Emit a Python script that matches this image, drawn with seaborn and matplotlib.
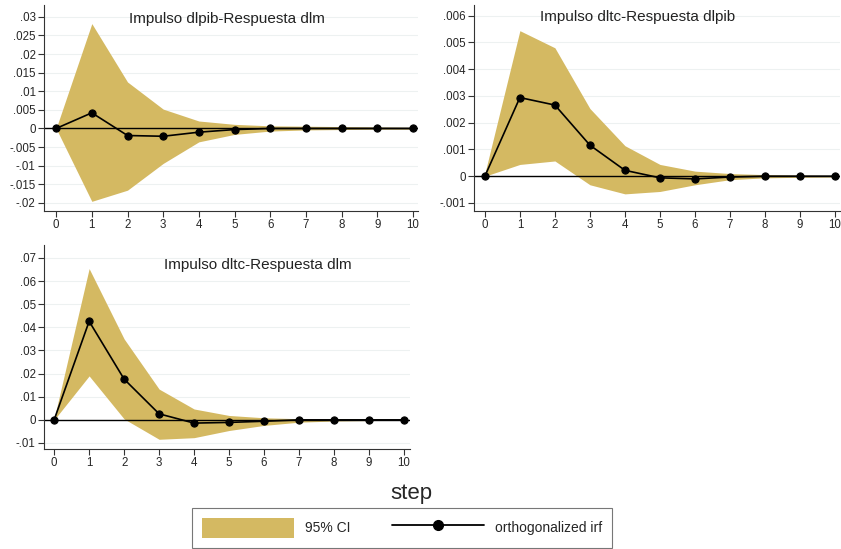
import seaborn as sns
import matplotlib.pyplot as plt
import pandas as pd
import numpy as np
from matplotlib.patches import Patch
from matplotlib.lines import Line2D

steps = list(range(11))

# Impulso dlpib -> Respuesta dlm
irf_pib_dlm = [0, 0.0042, -0.0019, -0.0021, -0.001, -0.0003, 0, 0, 0, 0, 0]
up_pib_dlm = [0, 0.0282, 0.0125, 0.0052, 0.002, 0.0011, 0.0007, 0.0006, 0.0005, 0.0004, 0.0003]
lo_pib_dlm = [0, -0.0196, -0.0166, -0.0094, -0.0036, -0.0016, -0.0007, -0.0004, -0.0003, -0.0002, -0.0002]

# Impulso dltc -> Respuesta dlpib
irf_tc_pib = [0, 0.00294, 0.00266, 0.00116, 0.00022, -0.00006, -0.0001, -0.00003, 0, 0, 0]
up_tc_pib = [0.0001, 0.00544, 0.0048, 0.00253, 0.00114, 0.00044, 0.00019, 0.0001, 0.00006, 0.00004, 0.00003]
lo_tc_pib = [0, 0.00044, 0.00057, -0.00032, -0.00066, -0.00057, -0.00032, -0.00013, -0.00006, -0.00004, -0.00003]

# Impulso dltc -> Respuesta dlm
irf_tc_dlm = [0, 0.0426, 0.0176, 0.0026, -0.0014, -0.0011, -0.0006, 0, 0, 0, 0]
up_tc_dlm = [0.0005, 0.0654, 0.035, 0.0133, 0.0047, 0.0019, 0.0009, 0.0005, 0.0004, 0.0003, 0.0002]
lo_tc_dlm = [0, 0.019, 0.0004, -0.0084, -0.0077, -0.0046, -0.0024, -0.001, -0.0005, -0.0003, -0.0002]

sns.set_style("white")
plt.rcParams['font.family'] = ['Liberation Sans', 'DejaVu Sans']

ci_color = "#D4B962"

def stata_fmt(v):
    v = round(v, 6)
    if v == 0:
        return "0"
    s = f"{v:g}"
    return s.replace("0.", ".", 1)

def panel(ax, irf, lo, up, yticks, ylim, xlim, title, tx, ty):
    df = pd.DataFrame({"step": steps, "irf": irf})
    ax.fill_between(steps, lo, up, color=ci_color, lw=0, zorder=1)
    ax.axhline(0, color="black", lw=1.0, zorder=2)
    sns.lineplot(data=df, x="step", y="irf", ax=ax, color="black", lw=1.2,
                 marker="o", markersize=5.2, markeredgecolor="black", zorder=3)
    ax.set_yticks(yticks)
    ax.set_yticklabels([stata_fmt(v) for v in yticks])
    ax.set_xticks(steps)
    ax.set_ylim(ylim)
    ax.set_xlim(xlim)
    for v in yticks:
        ax.axhline(v, color="#edf1f1", lw=0.8, zorder=0)
    ax.set_xlabel("")
    ax.set_ylabel("")
    sns.despine(ax=ax)
    ax.spines["left"].set_color("#333333")
    ax.spines["bottom"].set_color("#333333")
    ax.tick_params(axis="both", direction="out", length=4, width=0.8,
                   color="#333333", labelsize=8.3, pad=2, left=True, bottom=True)
    ax.text(tx, ty, title, transform=ax.transAxes, ha="center", va="center",
            fontsize=11, color="#222222")

fig = plt.figure(figsize=(8.41, 5.49), dpi=100)

ax1 = fig.add_axes([44/841, 1-211/549, 374/841, 206/549])
panel(ax1, irf_pib_dlm, lo_pib_dlm, up_pib_dlm,
      [-0.02, -0.015, -0.01, -0.005, 0, 0.005, 0.01, 0.015, 0.02, 0.025, 0.03],
      (-0.0222, 0.0332), (-0.34, 10.14), "Impulso dlpib-Respuesta dlm", 0.49, 0.93)

ax2 = fig.add_axes([474/841, 1-211/549, 366/841, 206/549])
panel(ax2, irf_tc_pib, lo_tc_pib, up_tc_pib,
      [-0.001, 0, 0.001, 0.002, 0.003, 0.004, 0.005, 0.006],
      (-0.0013, 0.0064), (-0.31, 10.14), "Impulso dltc-Respuesta dlpib", 0.447, 0.94)

ax3 = fig.add_axes([44/841, 1-449/549, 366/841, 204/549])
panel(ax3, irf_tc_dlm, lo_tc_dlm, up_tc_dlm,
      [-0.01, 0, 0.01, 0.02, 0.03, 0.04, 0.05, 0.06, 0.07],
      (-0.0126, 0.0756), (-0.29, 10.17), "Impulso dltc-Respuesta dlm", 0.585, 0.90)

fig.text(411/841, 1-493/549, "step", ha="center", va="center", fontsize=16)

handles = [Patch(facecolor=ci_color, edgecolor="none"),
           Line2D([0], [0], color="black", lw=1.3, marker="o", markersize=7)]
leg = fig.legend(handles, ["95% CI", "orthogonalized irf"], ncol=2,
                 loc="upper center", bbox_to_anchor=(402/841, 1-508/549),
                 frameon=True, fancybox=False, fontsize=10, handlelength=6.6,
                 handleheight=1.9, columnspacing=3.0, handletextpad=0.8,
                 borderpad=0.7, borderaxespad=0)
leg.get_frame().set_edgecolor("#555555")
leg.get_frame().set_linewidth(0.8)

fig.savefig("out.png", dpi=100)
